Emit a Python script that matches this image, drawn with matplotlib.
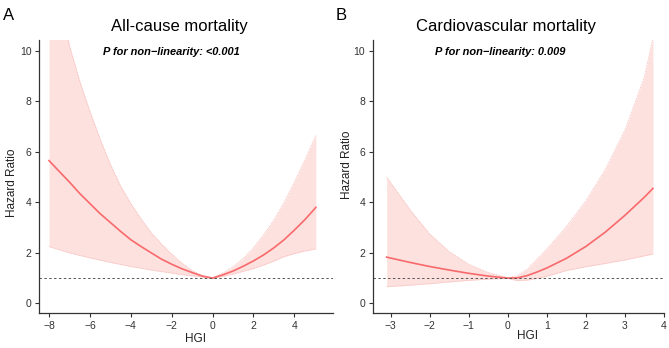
import matplotlib
matplotlib.use("Agg")
import matplotlib.pyplot as plt

plt.rcParams['font.family'] = ['Liberation Sans', 'DejaVu Sans']

# ---- Panel A: All-cause mortality ----
a_x = [-8, -7.5, -7, -6.5, -6, -5.5, -5, -4.5, -4, -3.5, -3, -2.5, -2, -1.5, -1, -0.5, 0,
       0.5, 1, 1.5, 2, 2.5, 3, 3.5, 4, 4.5, 5, 5.05]
a_hr = [5.65, 5.22, 4.8, 4.35, 3.95, 3.55, 3.2, 2.85, 2.52, 2.25, 2.0, 1.75, 1.55, 1.37, 1.22, 1.08, 1.0,
        1.13, 1.28, 1.47, 1.68, 1.92, 2.2, 2.52, 2.9, 3.3, 3.75, 3.8]
a_upper = [14.5, 12.1, 10.2, 8.8, 7.6, 6.5, 5.5, 4.65, 3.95, 3.35, 2.8, 2.35, 1.95, 1.6, 1.3, 1.1, 1.01,
           1.2, 1.45, 1.78, 2.2, 2.72, 3.3, 4.0, 4.8, 5.65, 6.55, 6.65]
a_lower = [2.25, 2.12, 2.0, 1.9, 1.8, 1.71, 1.62, 1.54, 1.46, 1.39, 1.32, 1.26, 1.2, 1.14, 1.09, 1.04, 0.99,
           1.07, 1.16, 1.27, 1.38, 1.52, 1.68, 1.85, 1.97, 2.07, 2.15, 2.16]

# ---- Panel B: Cardiovascular mortality ----
b_x = [-3.1, -2.5, -2, -1.5, -1, -0.5, 0, 0.25, 0.5, 0.75, 1, 1.5, 2, 2.5, 3, 3.5, 3.72]
b_hr = [1.83, 1.62, 1.46, 1.32, 1.19, 1.08, 1.0, 1.01, 1.1, 1.24, 1.4, 1.78, 2.25, 2.82, 3.48, 4.2, 4.55]
b_upper = [5.0, 3.7, 2.75, 2.05, 1.55, 1.22, 1.02, 1.1, 1.35, 1.75, 2.15, 3.03, 4.05, 5.3, 6.85, 8.95, 10.5]
b_lower = [0.66, 0.72, 0.78, 0.85, 0.91, 0.96, 0.99, 0.9, 0.92, 0.99, 1.07, 1.3, 1.45, 1.58, 1.72, 1.88, 1.95]

titles = ["All-cause mortality", "Cardiovascular mortality"]
p_texts = ["P for non\u2212linearity: <0.001", "P for non\u2212linearity: 0.009"]
panel_letters = ["A", "B"]
y_ticks = [0, 2, 4, 6, 8, 10]
a_xticks = [-8, -6, -4, -2, 0, 2, 4]
b_xticks = [-3, -2, -1, 0, 1, 2, 3, 4]

W, H = 669, 348
fig = plt.figure(figsize=(W / 100, H / 100), dpi=100)

line_c = '#F8696B'
fill_c = '#FDE1DF'
edge_c = '#F7B5B2'
axis_c = '#333333'

def px_rect(x0, x1, ytop, ybot):
    return [x0 / W, 1 - ybot / H, (x1 - x0) / W, (ybot - ytop) / H]

axA = fig.add_axes(px_rect(39, 333, 40, 313))
axB = fig.add_axes(px_rect(372.7, 664, 40, 313))

specs = [
    (axA, a_x, a_hr, a_upper, a_lower, (-8.49, 5.89), a_xticks),
    (axB, b_x, b_hr, b_upper, b_lower, (-3.457, 4.003), b_xticks),
]

for ax, x, hr, up, lo, xl, xt in specs:
    ax.fill_between(x, lo, up, color=fill_c, linewidth=0)
    ax.plot(x, up, color=edge_c, lw=0.6, ls=(0, (1, 1)))
    ax.plot(x, lo, color=edge_c, lw=0.6, ls=(0, (1, 1)))
    ax.plot(x, hr, color=line_c, lw=1.2)
    ax.axhline(1, color='#555555', lw=0.7, ls=(0, (2.5, 2.5)))
    ax.set_xlim(*xl)
    ax.set_ylim(-0.38, 10.42)
    ax.set_xticks(xt)
    ax.set_yticks(y_ticks)
    for s in ['top', 'right']:
        ax.spines[s].set_visible(False)
    for s in ['left', 'bottom']:
        ax.spines[s].set_color(axis_c)
        ax.spines[s].set_linewidth(0.9)
    ax.tick_params(axis='both', direction='out', length=3, width=0.8, color=axis_c,
                   labelsize=7.5, labelcolor='#333333', pad=2.5)

# panel letters
fig.text(3 / W, 1 - 20 / H, panel_letters[0], fontsize=12, va='baseline', ha='left')
fig.text(336 / W, 1 - 20 / H, panel_letters[1], fontsize=12, va='baseline', ha='left')

# titles
fig.text(179 / W, 1 - 30.7 / H, titles[0], fontsize=12, ha='center', va='baseline')
fig.text(506.3 / W, 1 - 30.7 / H, titles[1], fontsize=12, ha='center', va='baseline')

# P texts
fig.text(171.3 / W, 1 - 55.3 / H, p_texts[0], fontsize=7.9, fontweight='bold', fontstyle='italic',
         ha='center', va='baseline')
fig.text(499.7 / W, 1 - 55.3 / H, p_texts[1], fontsize=7.9, fontweight='bold', fontstyle='italic',
         ha='center', va='baseline')

# axis labels
fig.text(12.5 / W, 1 - 182.5 / H, "Hazard Ratio", rotation=90, fontsize=8.5, ha='center', va='center',
         color='#222222')
fig.text(346.5 / W, 1 - 164.5 / H, "Hazard Ratio", rotation=90, fontsize=8.5, ha='center', va='center',
         color='#222222')
fig.text(196 / W, 1 - 341.7 / H, "HGI", fontsize=8.5, ha='center', va='baseline', color='#222222')
fig.text(527 / W, 1 - 339.3 / H, "HGI", fontsize=8.5, ha='center', va='baseline', color='#222222')

fig.savefig("out.png", dpi=100)
